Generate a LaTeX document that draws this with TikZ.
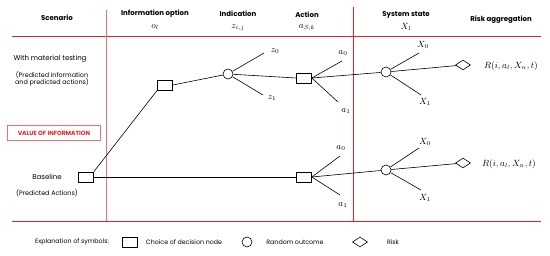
\documentclass[tikz,border=0pt]{standalone}
\usepackage{amsmath}
\usepackage{fontspec}
\setmainfont{Poppins}
\usepackage{tikz}
\usetikzlibrary{shapes.geometric,positioning}
\definecolor{voiRed}{RGB}{232,32,40}
\definecolor{voiPink}{RGB}{236,112,120}

\tikzset{
  decision/.style={draw, rectangle, minimum width=15pt, minimum height=10pt, inner sep=0pt},
  chance/.style={draw, circle, minimum size=10pt, inner sep=0pt},
  risk/.style={draw, diamond, minimum width=15pt, minimum height=10pt, inner sep=0pt},
  head/.style={font=\fontsize{7}{8}\selectfont\bfseries},
  side/.style={font=\fontsize{7}{8}\selectfont},
  note/.style={font=\fontsize{6.4}{7.6}\selectfont},
  legend/.style={font=\fontsize{6.3}{7}\selectfont},
  lbl/.style={font=\fontsize{9}{10}\selectfont, inner sep=0pt},
  grid/.style={voiRed, line width=1pt}
}

\begin{document}
\begin{tikzpicture}[x=1pt, y=-1pt, line width=0.6pt]
    \useasboundingbox (0,0) rectangle (550,255);

    % Table lines
    \draw[grid] (12,36) -- (541,36);
    \draw[grid] (12,221) -- (541,221);
    \draw[grid, voiPink] (106,10) -- (106,221);
    \draw[grid] (353,7) -- (353,221);

    % Column headers
    \node[head] (hscen) at (57,18) {Scenario};
    \node[head] (hinfo) at (155,14) {Information option};
    \node[lbl] (hinfov) at (155,27) {$o_l$};
    \node[head] (hind) at (238,14) {Indication};
    \node[lbl] (hindv) at (238,28) {$z_{i,j}$};
    \node[head] (hact) at (307,15) {Action};
    \node[lbl] (hactv) at (307,28) {$a_{S,k}$};
    \node[head] (hstate) at (406,15) {System state};
    \node[lbl] (hstatev) at (406,27) {$X_l$};
    \node[head] (hrisk) at (501,20) {Risk aggregation};

    % Scenario column
    \node[side] (testing) at (50,59) {With material testing};
    \node[note, align=center] (testnote) at (52,79) {(Predicted information\\and predicted actions)};
    \node[draw=voiPink, line width=0.7pt, minimum width=93pt, minimum height=15pt,
          text=voiRed, font=\fontsize{6}{7}\selectfont\bfseries] (voi) at (54,133) {VALUE OF INFORMATION};
    \node[side] (baseline) at (47,177) {Baseline};
    \node[note] (basenote) at (47,193) {(Predicted Actions)};

    % Decision tree nodes
    \node[decision] (base) at (86,177) {};
    \node[decision] (info) at (165,85) {};
    \node[chance] (ind) at (228,74) {};
    \node[decision] (act1) at (304,78) {};
    \node[chance] (state1) at (386,72) {};
    \node[risk] (risk1) at (463,65) {};
    \node[decision] (act2) at (304,177) {};
    \node[chance] (state2) at (386,170) {};
    \node[risk] (risk2) at (463,163) {};

    % Branch ends
    \coordinate (z0end) at (264,53);
    \coordinate (z1end) at (263,95);
    \coordinate (a0end1) at (342,61);
    \coordinate (a1end1) at (338,102);
    \coordinate (x0end1) at (419,53);
    \coordinate (x1end1) at (421,95);
    \coordinate (a0end2) at (340,156);
    \coordinate (a1end2) at (340,195);
    \coordinate (x0end2) at (419,148);
    \coordinate (x1end2) at (421,190);

    % Connectors
    \draw (base.north east) -- (info.south west);
    \draw (base.east) -- (act2.west);
    \draw (info.east) -- (ind);
    \draw (ind) -- (z0end);
    \draw (ind) -- (z1end);
    \draw (ind) -- (act1.west);
    \draw (act1.east) -- (a0end1);
    \draw (act1.east) -- (a1end1);
    \draw (act1.east) -- (state1);
    \draw (state1) -- (x0end1);
    \draw (state1) -- (x1end1);
    \draw (state1) -- (risk1);
    \draw (act2.east) -- (a0end2);
    \draw (act2.east) -- (a1end2);
    \draw (act2.east) -- (state2);
    \draw (state2) -- (x0end2);
    \draw (state2) -- (x1end2);
    \draw (state2) -- (risk2);

    % Branch labels
    \node[lbl] (z0) at (275,51) {$z_0$};
    \node[lbl] (z1) at (272,98) {$z_1$};
    \node[lbl] (a0top) at (343,53) {$a_0$};
    \node[lbl] (a1top) at (346,111) {$a_1$};
    \node[lbl] (x0top) at (423,45) {$X_0$};
    \node[lbl] (x1top) at (425,102) {$X_1$};
    \node[lbl] (rtop) at (511,66) {$R(i,a_l,X_n,t)$};
    \node[lbl] (a0bot) at (341,148) {$a_0$};
    \node[lbl] (a1bot) at (343,205) {$a_1$};
    \node[lbl] (x0bot) at (425,142) {$X_0$};
    \node[lbl] (x1bot) at (425,198) {$X_1$};
    \node[lbl] (rbot) at (509,164) {$R(i,a_l,X_n,t)$};

    % Legend
    \node[legend] (explain) at (72,242) {Explanation of symbols:};
    \node[decision] (keydec) at (130,242) {};
    \node[legend] (keydectxt) at (184,242) {Choice of decision node};
    \node[chance] (keychance) at (247,242) {};
    \node[legend] (keychancetxt) at (295,242) {Random outcome};
    \node[risk] (keyrisk) at (360,242) {};
    \node[legend] (keyrisktxt) at (393,242) {Risk};

\end{tikzpicture}
\end{document}
